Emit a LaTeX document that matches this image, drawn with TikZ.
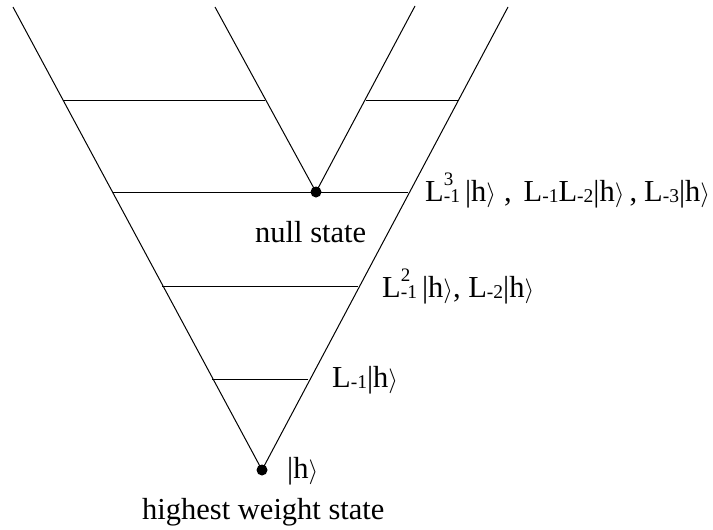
\documentclass[tikz,border=0pt]{standalone}
\usepackage{fontspec}
\setmainfont{Liberation Serif}
\newcommand\Lop[2]{L\makebox[0pt][l]{\raisebox{16pt}{\fontsize{19}{19}\selectfont #2}}\raisebox{-1.5pt}{\fontsize{19.5}{19.5}\selectfont #1}}
\newcommand\ket{|h$\rangle$}
\begin{document}
\begin{tikzpicture}[x=1pt,y=-1pt,
  edge/.style={line width=1pt},
  lbl/.style={anchor=base west,inner sep=0pt,font=\fontsize{30.5}{36}\selectfont},
  dot/.style={circle,fill,inner sep=0pt,minimum size=11pt}]
\useasboundingbox (0,0) rectangle (713,530);
\coordinate (tl) at (13,7);
\coordinate (il) at (215,7);
\coordinate (ir) at (415,6);
\coordinate (tr) at (508,7);
\node[dot] (apex) at (262,470) {};
\node[dot] (null) at (316,192) {};
\draw[edge] (tl) -- (apex.center) -- (tr);
\draw[edge] (il) -- (null.center) -- (ir);
\coordinate (a1) at (63,100); \coordinate (a2) at (265,100);
\coordinate (b1) at (366,100); \coordinate (b2) at (459,100);
\coordinate (c1) at (113,192); \coordinate (c2) at (408,192);
\coordinate (d1) at (162,286); \coordinate (d2) at (358,286);
\coordinate (e1) at (212,379); \coordinate (e2) at (308,379);
\draw[edge] (a1) -- (a2);
\draw[edge] (b1) -- (b2);
\draw[edge] (c1) -- (c2);
\draw[edge] (d1) -- (d2);
\draw[edge] (e1) -- (e2);
\node[lbl] (l3) at (425,201) {\Lop{-1}{3}\hspace{5pt}\ket\hspace{8pt},\hspace{12pt}\Lop{-1}{}\Lop{-2}{}\ket\hspace{5pt},\hspace{7pt}\Lop{-3}{}\ket};
\node[lbl] (l2) at (382,297) {\Lop{-1}{2}\hspace{5pt}\ket, \Lop{-2}{}\ket};
\node[lbl] (l1) at (332,387) {\Lop{-1}{}\ket};
\node[lbl] (lh) at (287,478) {\ket};
\node[lbl] (ns) at (255,242) {null state};
\node[lbl] (hw) at (142,519) {highest weight state};
\end{tikzpicture}
\end{document}
